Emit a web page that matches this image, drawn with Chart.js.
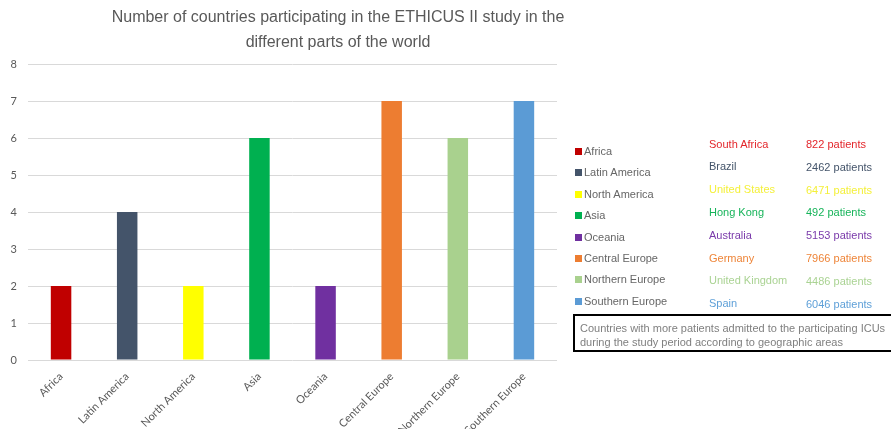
<!DOCTYPE html>
<html>
<head>
<meta charset="utf-8">
<script src="https://cdn.jsdelivr.net/npm/chart.js@4.4.0/dist/chart.umd.min.js"></script>
<style>
    body { margin: 0; background: #fff; }
    #wrap { position: relative; width: 891px; height: 429px; overflow: hidden; }
    #chart { position: absolute; left: 0; top: 0; }
    #title {
        position: absolute; left: 0; top: 5px; width: 676px; text-align: center;
        font-family: 'Liberation Sans Narrow', 'Liberation Sans', sans-serif;
        font-size: 16px; line-height: 24.5px; color: #595959;
    }
    .leg, .country, .pts { position: absolute; font-family: 'Liberation Sans', Arial, sans-serif; font-size: 11px; line-height: 14px; white-space: nowrap; }
    .leg { left: 575px; color: #666; }
    .leg i { display: inline-block; width: 7px; height: 7px; margin-right: 2px; vertical-align: 0px; }
    .country { left: 709px; }
    .pts { left: 806px; }
    #note {
        position: absolute; left: 573px; top: 314px; width: 340px; height: 29px;
        border: 2px solid #000; box-sizing: content-box;
        font-family: 'Liberation Sans', Arial, sans-serif; font-size: 11px; line-height: 14px;
        color: #7f7f7f; padding: 5px 0 0 5px; margin: 0;
    }
</style>
</head>
<body>
<div id="wrap">
    <canvas id="chart" width="891" height="429"></canvas>
    <div id="title">Number of countries participating in the ETHICUS II study in the<br>different parts of the world</div>
    <div id="side"></div>
    <div id="note">Countries with more patients admitted to the participating ICUs<br>during the study period according to geographic areas</div>
</div>
<script>
// data
const regions = ['Africa', 'Latin America', 'North America', 'Asia', 'Oceania', 'Central Europe', 'Northern Europe', 'Southern Europe'];
const countryCounts = [2, 4, 2, 6, 2, 7, 6, 7];
const barColors = ['#C00000', '#44546A', '#FFFF00', '#00B050', '#7030A0', '#ED7D31', '#A9D18E', '#5B9BD5'];
const topCountries = ['South Africa', 'Brazil', 'United States', 'Hong Kong', 'Australia', 'Germany', 'United Kingdom', 'Spain'];
const patientCounts = [822, 2462, 6471, 492, 5153, 7966, 4486, 6046];
const textColors = ['#E3262B', '#44546A', '#F4F03A', '#17B45A', '#7A3AAA', '#EE8539', '#AAD393', '#5FA0D8'];
const yTicks = [0, 1, 2, 3, 4, 5, 6, 7, 8];

document.addEventListener('DOMContentLoaded', function() {
    buildSide();
    drawChart();
});

function buildSide() {
    const side = document.getElementById('side');
    regions.forEach((name, i) => {
        const leg = document.createElement('div');
        leg.className = 'leg';
        leg.style.top = (151 + i * 21.4 - 7) + 'px';
        leg.innerHTML = `<i style="background:${barColors[i]}"></i>${name}`;
        side.appendChild(leg);

        const c = document.createElement('div');
        c.className = 'country';
        c.style.top = (143.5 + i * 22.8 - 7) + 'px';
        c.style.color = textColors[i];
        c.textContent = topCountries[i];
        side.appendChild(c);

        const p = document.createElement('div');
        p.className = 'pts';
        p.style.top = (144 + i * 22.8 - 7) + 'px';
        p.style.color = textColors[i];
        p.textContent = `${patientCounts[i]} patients`;
        side.appendChild(p);
    });
}

function drawChart() {
    const ctx = document.getElementById('chart').getContext('2d');
    new Chart(ctx, {
        type: 'bar',
        data: {
            labels: regions,
            datasets: [{
                data: countryCounts,
                backgroundColor: barColors,
                borderWidth: 0,
                barPercentage: 0.31,
                categoryPercentage: 1
            }]
        },
        options: {
            responsive: false,
            animation: false,
            layout: { padding: { left: 0, right: 334, top: 64, bottom: 0 } },
            plugins: { legend: { display: false }, title: { display: false }, tooltip: { enabled: false } },
            scales: {
                x: {
                    grid: { display: false, drawTicks: false },
                    border: { display: false },
                    ticks: {
                        autoSkip: false, minRotation: 45, maxRotation: 45, padding: 10,
                        color: '#595959', font: { family: 'Lato', size: 11 }
                    },
                    afterFit: function(scale) { scale.height = 69; }
                },
                y: {
                    min: 0, max: 8,
                    afterBuildTicks: function(scale) { scale.ticks = yTicks.map(v => ({ value: v })); },
                    grid: { color: '#D9D9D9', drawTicks: false },
                    border: { display: false },
                    ticks: { padding: 11, color: '#595959', font: { family: 'Lato', size: 11 } },
                    afterFit: function(scale) { scale.width = 28; }
                }
            }
        }
    });
}
</script>
</body>
</html>
